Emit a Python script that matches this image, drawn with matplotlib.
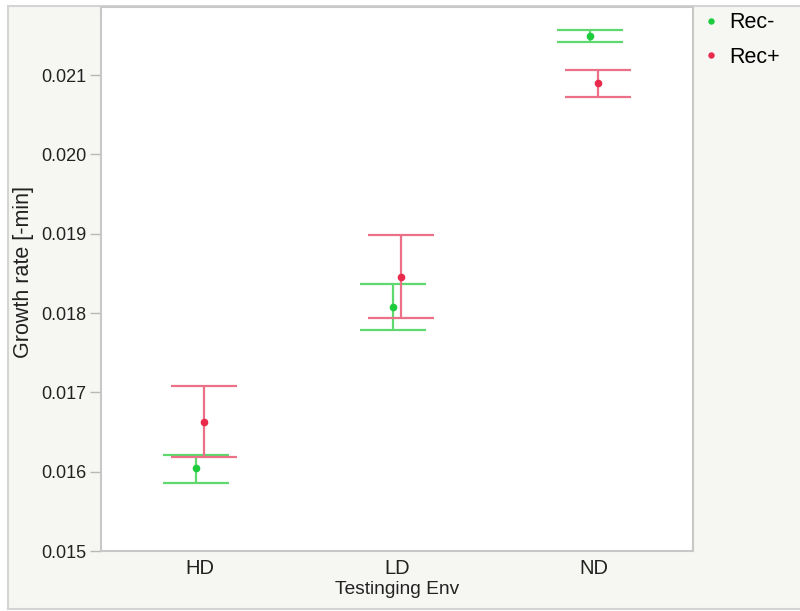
import numpy as np
import matplotlib
matplotlib.use('Agg')
import matplotlib.pyplot as plt
from matplotlib.patches import Rectangle

plt.rcParams['font.family'] = ['Liberation Sans', 'DejaVu Sans']

# data
envs = ['HD', 'LD', 'ND']
groups = ['Rec-', 'Rec+']
rec_minus_mean = [0.01605, 0.01808, 0.02149]
rec_minus_low = [0.01586, 0.01779, 0.02142]
rec_minus_high = [0.01621, 0.01837, 0.02157]
rec_plus_mean = [0.01663, 0.01846, 0.02090]
rec_plus_low = [0.01619, 0.01794, 0.02073]
rec_plus_high = [0.01708, 0.01898, 0.02106]
yticks = [0.015, 0.016, 0.017, 0.018, 0.019, 0.020, 0.021]

line_colors = ['#5fd86e', '#ec7088']
dot_colors = ['#1ccc3c', '#ea2a4c']
offsets = [-0.02, 0.02]
txt = '#222222'

fig = plt.figure(figsize=(8, 6.11), dpi=100)
fig.patch.set_facecolor('white')
# outer panel
fig.patches.append(Rectangle((8/800, 1 - 609/611), 1.0, 603/611, transform=fig.transFigure,
                             facecolor='#f6f6f3', edgecolor='#d4d4d4', lw=1.5, zorder=-10))

ax = fig.add_axes([101/800, 1 - 551/611, (693 - 101)/800, (551 - 7)/611])
ax.set_facecolor('white')

x = np.arange(len(envs))
means = [rec_minus_mean, rec_plus_mean]
lows = [rec_minus_low, rec_plus_low]
highs = [rec_minus_high, rec_plus_high]
for k in range(2):
    m = np.array(means[k])
    yerr = [m - np.array(lows[k]), np.array(highs[k]) - m]
    ax.errorbar(x + offsets[k], m, yerr=yerr, fmt='none', ecolor=line_colors[k],
                elinewidth=1.6, capsize=24, capthick=1.6, zorder=2)
    ax.plot(x + offsets[k], m, 'o', color=dot_colors[k], ms=4.5, zorder=3, label=groups[k])

ax.set_xlim(-0.5, 2.5)
ax.set_ylim(0.015, 0.02186)
ax.set_xticks(x)
ax.set_xticklabels(envs, fontsize=14.5, color=txt)
ax.set_yticks(yticks)
ax.set_yticklabels([f'{v:.3f}' for v in yticks], fontsize=13, color=txt)
ax.tick_params(axis='y', length=8, width=1, color='#b8b8b8', pad=2.5)
ax.tick_params(axis='x', length=0, pad=6)
for s in ax.spines.values():
    s.set_color('#c8c8c8')
    s.set_linewidth(1.5)

ax.set_xlabel('Testinging Env', fontsize=13.8, color=txt, labelpad=2)
ax.set_ylabel('Growth rate [-min]', fontsize=15.5, color=txt)
ax.yaxis.set_label_coords(-0.113, 0.512)

leg = ax.legend(loc='upper left', bbox_to_anchor=(1.0, 1.014), frameon=False, fontsize=15.5,
                handlelength=0.5, handletextpad=0.6, labelspacing=0.62, markerscale=0.8,
                borderaxespad=0.2)

fig.savefig('out.png', dpi=100)
